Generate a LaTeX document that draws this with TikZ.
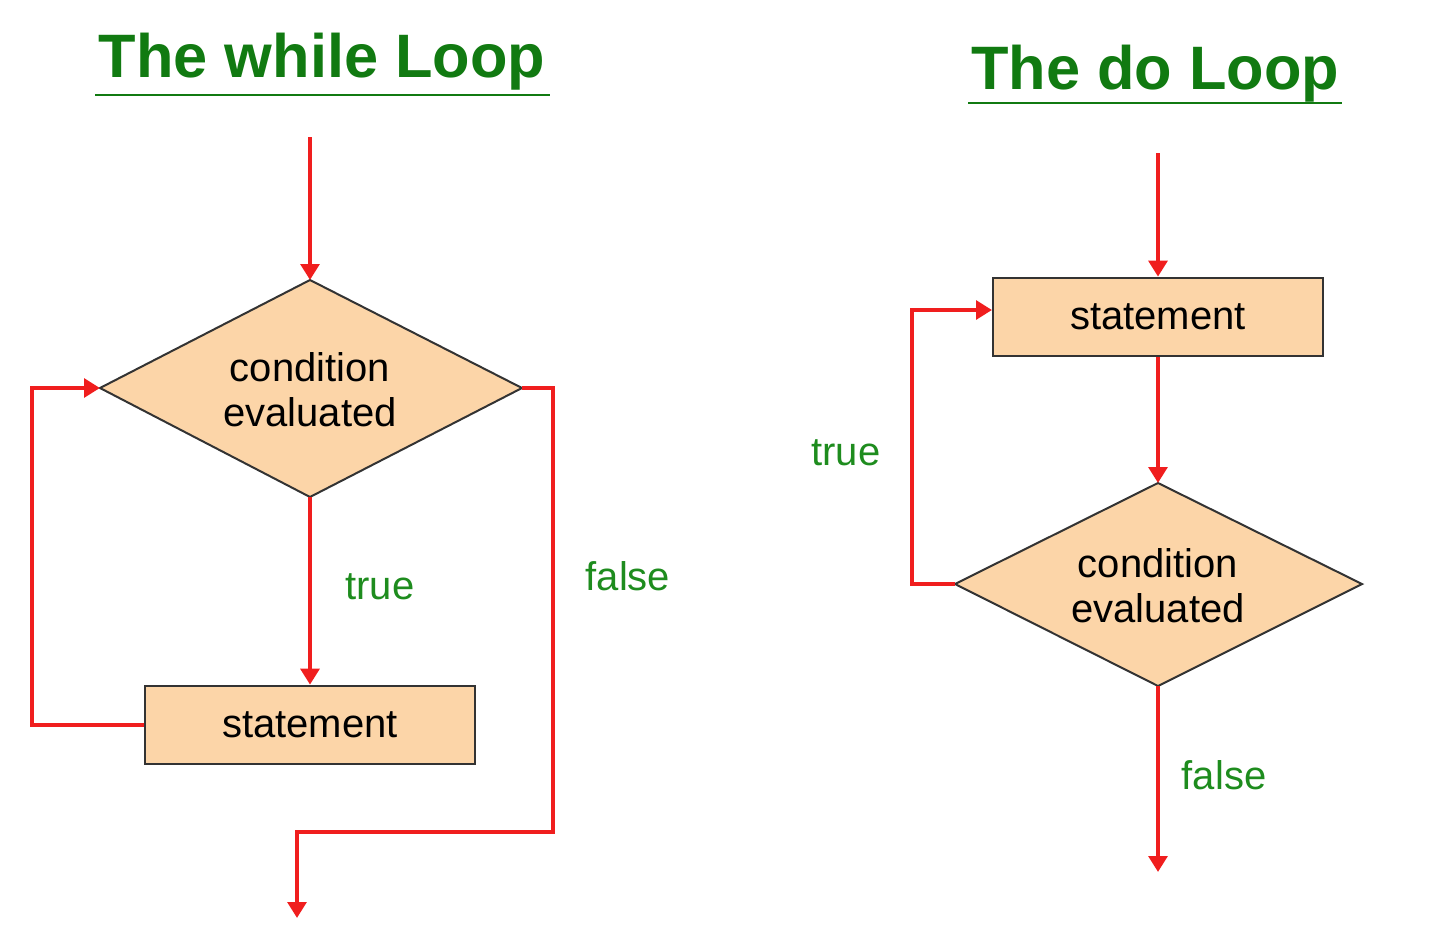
\documentclass[tikz,border=0pt]{standalone}
\usepackage{fontspec}
\setmainfont{Liberation Sans}
\usetikzlibrary{shapes.geometric,arrows.meta}
\definecolor{fillc}{HTML}{FCD5A8}
\definecolor{lab}{HTML}{1E8C1E}
\definecolor{ttl}{HTML}{117A11}
\definecolor{rd}{HTML}{F01E1E}
\begin{document}
\begin{tikzpicture}[x=0.75pt,y=-0.75pt,
  box/.style={draw=black!80,line width=1.5pt,fill=fillc,minimum width=247.5pt,minimum height=59pt,font=\fontsize{30}{32}\selectfont,inner sep=0pt},
  dpath/.style={draw=black!80,line width=1.5pt,fill=fillc},
  dtext/.style={align=center,font=\fontsize{30}{34}\selectfont,inner sep=0pt},
  ar/.style={draw=rd,line width=3pt,-{Triangle[length=12pt,width=14pt]}},
  lb/.style={text=lab,font=\fontsize{30}{32}\selectfont},
  tt/.style={text=ttl,font=\bfseries\fontsize{46}{50}\selectfont,inner sep=0pt},
  ul/.style={draw=ttl,line width=2pt}]
\useasboundingbox (0,0) rectangle (1440,939);
\node[tt] (t1) at (322,62) {The while Loop};
\draw[ul] (95,95) -- (550,95);
\node[tt] (t2) at (1155,74) {The do Loop};
\draw[ul] (968,103) -- (1342,103);
% left diamond
\coordinate (d1n) at (310,280); \coordinate (d1s) at (310,497);
\coordinate (d1w) at (100,388); \coordinate (d1e) at (522,388);
\draw[dpath] (d1n) -- (d1e) -- (d1s) -- (d1w) -- cycle;
\node[dtext] (d1) at (310,390) {condition\\evaluated};
\node[box] (b1) at (310,725) {statement};
\coordinate (s1) at (310,137);
\draw[ar] (s1) -- (d1n);
\draw[ar] (d1s) -- (b1.north);
\draw[ar] (b1.west) -- (32,725) -- (32,388) -- (d1w);
\coordinate (e1) at (297,918);
\draw[ar] (d1e) -- (553,388) -- (553,832) -- (297,832) -- (e1);
\node[lb] (tr1) at (380,587) {true};
\node[lb] (f1) at (628,576) {false};
% right
\coordinate (s2) at (1158,153);
\node[box] (b2) at (1158,317) {statement};
\coordinate (d2n) at (1158,483); \coordinate (d2s) at (1158,686);
\coordinate (d2w) at (955,584); \coordinate (d2e) at (1362,584);
\draw[dpath] (d2n) -- (d2e) -- (d2s) -- (d2w) -- cycle;
\node[dtext] (d2) at (1158,586) {condition\\evaluated};
\draw[ar] (s2) -- (b2.north);
\draw[ar] (b2.south) -- (d2n);
\draw[ar] (d2w) -- (912,584) -- (912,310) -- (b2.west |- 0,310);
\coordinate (e2) at (1158,872);
\draw[ar] (d2s) -- (e2);
\node[lb] (tr2) at (846,453) {true};
\node[lb] (f2) at (1224,775) {false};
\end{tikzpicture}
\end{document}
